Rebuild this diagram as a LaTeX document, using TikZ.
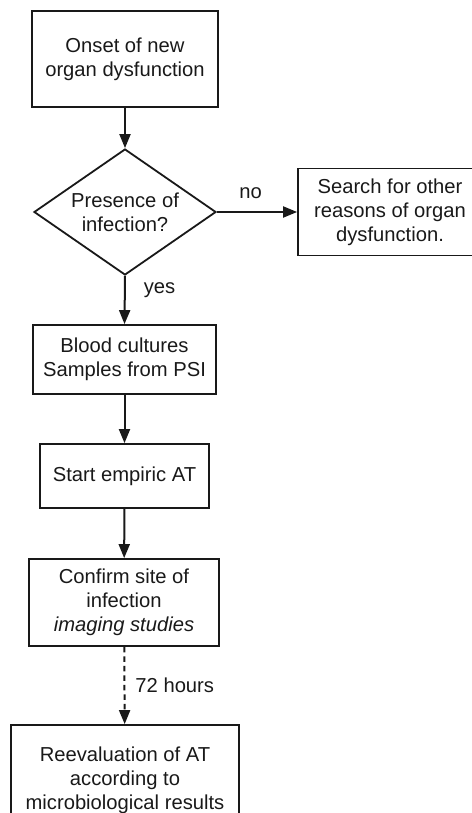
\documentclass[tikz,border=0pt]{standalone}
\usepackage{fontspec}
\setmainfont{Liberation Sans}
\usetikzlibrary{shapes.geometric,arrows.meta}
\begin{document}
\begin{tikzpicture}[x=1pt,y=-1pt,
  every node/.style={font=\fontsize{20.2}{24}\selectfont, text=black!90, inner sep=0pt},
  box/.style={draw=black!90, line width=1.8pt, align=center},
  dia/.style={draw=black!90, line width=1.8pt, diamond, aspect=1.444, align=center, minimum width=182pt, minimum height=126pt},
  arr/.style={draw=black!90, line width=2pt, -{Triangle[length=14pt,width=11pt]}},
  lab/.style={font=\fontsize{20.2}{24}\selectfont}
]
\useasboundingbox (0,0) rectangle (471,813);
\node[box, minimum width=186pt, minimum height=96pt] (b1) at (125,59) {Onset of new\\organ dysfunction};
\node[dia] (d) at (125,212) {Presence of\\infection?};
\node[box, minimum width=184pt, minimum height=87pt] (r) at (390,212) {Search for other\\reasons of organ\\dysfunction.};
\node[box, minimum width=183pt, minimum height=69pt] (b2) at (124.5,359.5) {Blood cultures\\Samples from PSI};
\node[box, minimum width=169pt, minimum height=64pt] (b3) at (124.5,476) {Start empiric AT};
\node[box, minimum width=190pt, minimum height=87pt] (b4) at (124,602.5) {Confirm site of\\infection\\\textit{imaging studies}};
\node[box, minimum width=228pt, minimum height=110pt] (b5) at (125,780) {Reevaluation of AT\\according to\\microbiological results};
\draw[arr] (b1) -- (d);
\draw[arr] (d.east) -- (r.west) node[lab, pos=0.42, above=12pt] (no) {no};
\draw[arr] (d.south) -- (b2.north) node[lab, pos=0.3, right=18pt] (yes) {yes};
\draw[arr] (b2) -- (b3);
\draw[arr] (b3) -- (b4);
\draw[arr, dash pattern=on 5.5pt off 4pt] (b4) -- (b5) node[lab, midway, right=10pt] (h) {72 hours};
\end{tikzpicture}
\end{document}
